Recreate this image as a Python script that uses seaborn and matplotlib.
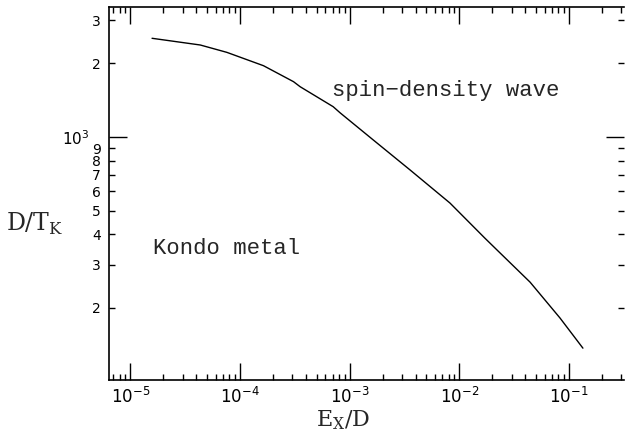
import numpy as np
import pandas as pd
import matplotlib
matplotlib.use("Agg")
import matplotlib.pyplot as plt
import matplotlib.ticker as mticker
import seaborn as sns

# curve (log-log)
ex_over_d = [1.58e-5, 4.35e-5, 7.6e-5, 1.64e-4, 3.08e-4, 3.54e-4, 7.08e-4,
             8.18e-4, 1.64e-3, 3.56e-3, 8.22e-3, 1.71e-2, 2.21e-2, 4.42e-2,
             8.28e-2, 0.134]
d_over_tk = [2532, 2377, 2218, 1956, 1683, 1605, 1330,
             1256, 973, 733, 537, 386, 345, 255,
             182, 137]

# y minor tick values and their labels
y_minor_vals = [200, 300, 400, 500, 600, 700, 800, 900, 2000, 3000]
y_minor_labels = ["2", "3", "4", "5", "6", "7", "8", "9", "2", "3"]

data = pd.DataFrame({"ex": ex_over_d, "dtk": d_over_tk})

sns.set_style("ticks")
fig = plt.figure(figsize=(6.25, 4.36), dpi=100)
ax = fig.add_axes([0.1744, 0.1284, 0.8246, 0.8556])

sns.lineplot(data=data, x="ex", y="dtk", ax=ax, color="black", linewidth=1.0)
ax.set(xscale="log", yscale="log")
ax.set_xlim(6.4e-6, 0.32)
ax.set_ylim(101.5, 3400)

# x ticks
ax.xaxis.set_major_locator(mticker.LogLocator(base=10, numticks=10))
ax.xaxis.set_minor_locator(mticker.LogLocator(base=10, subs=np.arange(2, 10), numticks=20))
ax.xaxis.set_minor_formatter(mticker.NullFormatter())

# y ticks
ax.yaxis.set_major_locator(mticker.FixedLocator([1000]))
ax.yaxis.set_major_formatter(mticker.FixedFormatter([r"$10^3$"]))
ax.yaxis.set_minor_locator(mticker.FixedLocator(y_minor_vals))
ax.yaxis.set_minor_formatter(mticker.FixedFormatter(y_minor_labels))

ax.tick_params(which="both", direction="in", top=True, right=True,
               color="black", width=1.0, labelcolor="black")
ax.tick_params(axis="x", which="major", length=12, pad=5, labelsize=12)
ax.tick_params(axis="x", which="minor", length=4)
ax.tick_params(axis="y", which="major", length=13, pad=14, labelsize=11)
ax.tick_params(axis="y", which="minor", length=4, pad=6, labelsize=10)
for lbl in ax.get_yticklabels(which="major"):
    lbl.set_va("center_baseline")

for side in ["left", "bottom", "top"]:
    ax.spines[side].set_linewidth(1.2)
    ax.spines[side].set_color("black")
ax.spines["right"].set_visible(False)

ax.set_xlabel(r"E$_\mathregular{X}$/D", family="DejaVu Serif", fontsize=16)
ax.set_ylabel(r"D/T$_\mathregular{K}$", family="DejaVu Serif", fontsize=17,
              rotation=0)
ax.xaxis.set_label_coords(0.454, -0.075)
ax.yaxis.set_label_coords(-0.144, 0.383)

ax.text(6.9e-4, 1542, "spin\u2212density wave", family="Liberation Mono",
        fontsize=16, ha="left", va="center")
ax.text(1.62e-5, 351, "Kondo metal", family="Liberation Mono",
        fontsize=16, ha="left", va="center")

fig.savefig("out.png", dpi=100)
